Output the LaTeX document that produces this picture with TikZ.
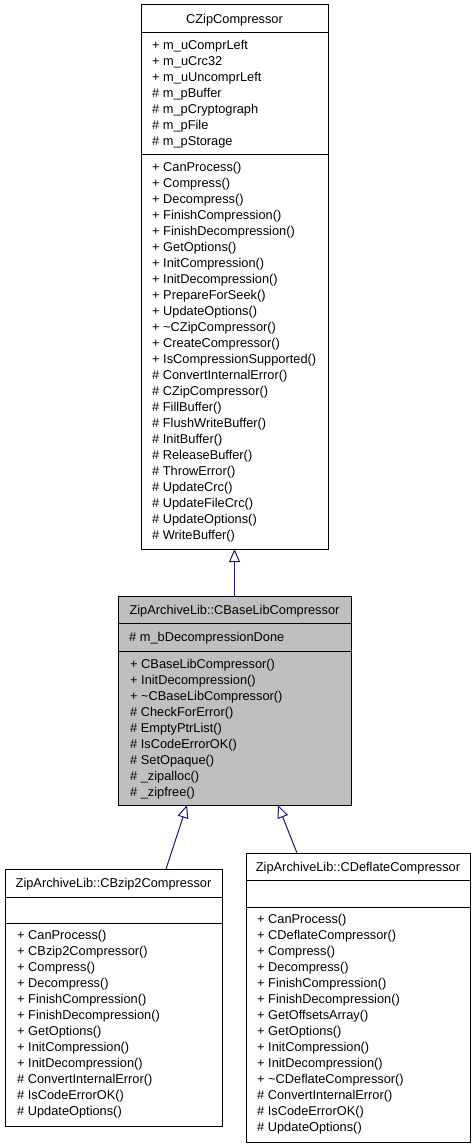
\documentclass[tikz,border=0pt]{standalone}
\usepackage{fontspec}
\setmainfont{Liberation Sans}
\usetikzlibrary{arrows.meta,calc}
\definecolor{navy}{HTML}{191970}
\definecolor{boxgray}{HTML}{BFBFBF}
\begin{document}
\begin{tikzpicture}[x=1pt,y=-1pt,
  box/.style={draw=black, line width=1pt, inner sep=0pt, outer sep=0pt, anchor=north west},
  txt/.style={anchor=west, inner sep=0pt, text height=9pt, text depth=0pt, font=\fontsize{12.8}{15}\selectfont},
  ttl/.style={anchor=center, inner sep=0pt, text height=9pt, text depth=0pt, font=\fontsize{12.8}{15}\selectfont},
  sep/.style={black, line width=1pt},
  inh/.style={draw=navy, line width=1pt, -{Triangle[open,length=13pt,width=11pt,fill=white]}}]
\useasboundingbox (0,0) rectangle (475,1147);

% ---------- CZipCompressor ----------
\node[box, minimum width=187pt, minimum height=544pt] (C) at (141,5) {};
\node[ttl] (Ct) at (234.5,19) {CZipCompressor};
\draw[sep] (C.west |- 0,33) -- (C.east |- 0,33);
\draw[sep] (C.west |- 0,155) -- (C.east |- 0,155);
\foreach \t [count=\i from 0] in {+ m\_uComprLeft,+ m\_uCrc32,+ m\_uUncomprLeft,\# m\_pBuffer,\# m\_pCryptograph,\# m\_pFile,\# m\_pStorage}
  \node[txt] (Ca\i) at (152,45+16*\i) {\t};
\foreach \t [count=\i from 0] in {+ CanProcess(),+ Compress(),+ Decompress(),+ FinishCompression(),+ FinishDecompression(),+ GetOptions(),+ InitCompression(),+ InitDecompression(),+ PrepareForSeek(),+ UpdateOptions(),+ \textasciitilde CZipCompressor(),+ CreateCompressor(),+ IsCompressionSupported(),\# ConvertInternalError(),\# CZipCompressor(),\# FillBuffer(),\# FlushWriteBuffer(),\# InitBuffer(),\# ReleaseBuffer(),\# ThrowError(),\# UpdateCrc(),\# UpdateFileCrc(),\# UpdateOptions(),\# WriteBuffer()}
  \node[txt] (Cm\i) at (152,167+16*\i) {\t};

% ---------- CBaseLibCompressor ----------
\node[box, fill=boxgray, minimum width=233pt, minimum height=209pt] (M) at (118,596) {};
\node[ttl] (Mt) at (234.5,609.5) {ZipArchiveLib::CBaseLibCompressor};
\draw[sep] (M.west |- 0,623) -- (M.east |- 0,623);
\draw[sep] (M.west |- 0,651) -- (M.east |- 0,651);
\node[txt] (Ma0) at (129,637) {\# m\_bDecompressionDone};
\foreach \t [count=\i from 0] in {+ CBaseLibCompressor(),+ InitDecompression(),+ \textasciitilde CBaseLibCompressor(),\# CheckForError(),\# EmptyPtrList(),\# IsCodeErrorOK(),\# SetOpaque(),\# \_zipalloc(),\# \_zipfree()}
  \node[txt] (Mm\i) at (130,664+16*\i) {\t};

% ---------- CBzip2Compressor ----------
\node[box, minimum width=217pt, minimum height=257pt] (B) at (5,869) {};
\node[ttl] (Bt) at (113.5,883) {ZipArchiveLib::CBzip2Compressor};
\draw[sep] (B.west |- 0,897) -- (B.east |- 0,897);
\draw[sep] (B.west |- 0,923) -- (B.east |- 0,923);
\foreach \t [count=\i from 0] in {+ CanProcess(),+ CBzip2Compressor(),+ Compress(),+ Decompress(),+ FinishCompression(),+ FinishDecompression(),+ GetOptions(),+ InitCompression(),+ InitDecompression(),\# ConvertInternalError(),\# IsCodeErrorOK(),\# UpdateOptions()}
  \node[txt] (Bm\i) at (17,935+16*\i) {\t};

% ---------- CDeflateCompressor ----------
\node[box, minimum width=224pt, minimum height=289pt] (D) at (246,853) {};
\node[ttl] (Dt) at (358,866.5) {ZipArchiveLib::CDeflateCompressor};
\draw[sep] (D.west |- 0,880) -- (D.east |- 0,880);
\draw[sep] (D.west |- 0,907) -- (D.east |- 0,907);
\foreach \t [count=\i from 0] in {+ CanProcess(),+ CDeflateCompressor(),+ Compress(),+ Decompress(),+ FinishCompression(),+ FinishDecompression(),+ GetOffsetsArray(),+ GetOptions(),+ InitCompression(),+ InitDecompression(),+ \textasciitilde CDeflateCompressor(),\# ConvertInternalError(),\# IsCodeErrorOK(),\# UpdateOptions()}
  \node[txt] (Dm\i) at (257,919+16*\i) {\t};

% ---------- inheritance ----------
\draw[inh] (M.north) -- (C.south);
\draw[inh] ($(B.north)+(52.5,0)$) -- ($(M.south)+(-47.5,0)$);
\draw[inh] ($(D.north)+(-61,0)$) -- ($(M.south)+(43.5,0)$);
\end{tikzpicture}
\end{document}
